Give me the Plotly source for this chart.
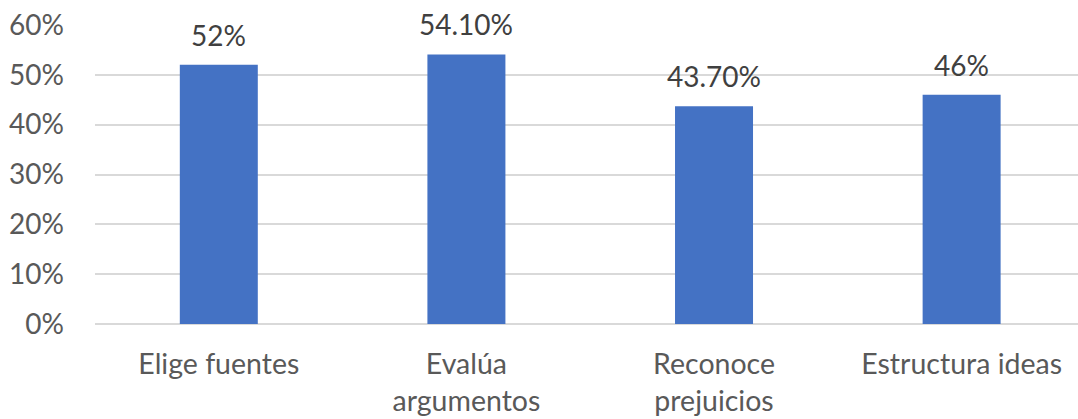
import plotly.graph_objects as go

categories = ["Elige fuentes", "Evalúa<br>argumentos", "Reconoce<br>prejuicios", "Estructura ideas"]
values = [0.52, 0.541, 0.437, 0.46]
value_labels = ["52%", "54.10%", "43.70%", "46%"]
y_ticks = [0, 0.1, 0.2, 0.3, 0.4, 0.5, 0.6]
y_tick_labels = ["0%", "10%", "20%", "30%", "40%", "50%", "60%"]

FONT = "Lato"
BAR_COLOR = "#4472c4"
GRID = "#d9d9d9"

fig = go.Figure(
    go.Bar(
        x=categories,
        y=values,
        marker=dict(color=BAR_COLOR, line=dict(width=0)),
        width=0.315,
        hoverinfo="skip",
    )
)

for cat, val, lab in zip(categories, values, value_labels):
    fig.add_annotation(
        x=cat, y=val, text=lab, showarrow=False,
        yanchor="bottom", yshift=11,
        font=dict(family=FONT, size=28, color="#404040"),
    )

fig.update_layout(
    width=1078, height=419,
    margin=dict(l=95, r=0, t=25, b=95),
    paper_bgcolor="white", plot_bgcolor="white",
    showlegend=False,
    font=dict(family=FONT, size=28, color="#595959"),
)
fig.update_xaxes(
    range=[-0.5, 3.47], showgrid=False, showline=False, ticks="",
    ticklabelstandoff=20,
    tickfont=dict(family=FONT, size=28.5, color="#595959"),
)
fig.update_yaxes(
    range=[0, 0.6], tickvals=y_ticks, ticktext=y_tick_labels,
    showgrid=True, gridcolor=GRID, gridwidth=1.5,
    zeroline=True, zerolinecolor=GRID, zerolinewidth=1.5,
    showline=False, ticks="", ticklabelstandoff=30,
    tickfont=dict(family=FONT, size=28, color="#595959"),
)

fig.write_html("out.html")
